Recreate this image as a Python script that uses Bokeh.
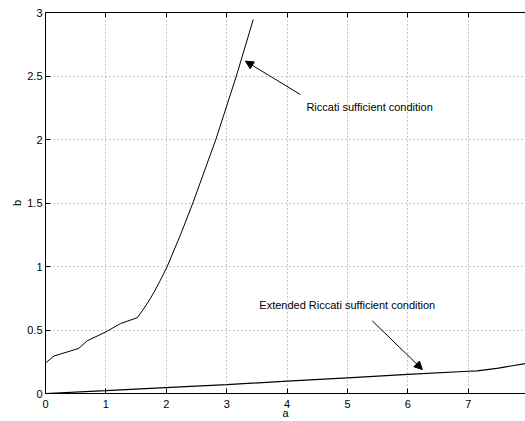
from bokeh.plotting import figure
from bokeh.models import Range1d, LinearAxis, Label, Arrow, NormalHead, FixedTicker
from bokeh.embed import file_html
from bokeh.resources import INLINE

# Riccati sufficient condition
ric_a = [0.0, 0.14, 0.55, 0.69, 1.0, 1.24, 1.52, 1.6, 1.7, 1.8, 1.9, 2.015, 2.235, 2.44, 2.63, 2.82, 3.16, 3.44]
ric_b = [0.24, 0.295, 0.355, 0.415, 0.485, 0.55, 0.597, 0.65, 0.72, 0.8, 0.89, 1.0, 1.25, 1.5, 1.75, 2.0, 2.5, 2.945]

# Extended Riccati sufficient condition
ext_a = [0.0, 1.0, 1.9, 3.0, 4.0, 5.0, 6.0, 7.0, 7.15, 7.5, 7.95]
ext_b = [0.0, 0.022, 0.044, 0.07, 0.097, 0.123, 0.15, 0.175, 0.178, 0.2, 0.236]

x_ticks = [0, 1, 2, 3, 4, 5, 6, 7]
y_ticks = [0, 0.5, 1, 1.5, 2, 2.5, 3]

labels = [("Riccati sufficient condition", 4.32, 2.205),
          ("Extended Riccati sufficient condition", 3.54, 0.65)]
arrows = [(4.22, 2.354, 3.31, 2.617), (5.41, 0.572, 6.24, 0.189)]

FONT = "Liberation Sans"

p = figure(width=525, height=421, output_backend="svg", toolbar_location=None,
           x_range=Range1d(0, 7.947), y_range=Range1d(0, 3),
           min_border_left=45, min_border_right=0, min_border_top=12,
           min_border_bottom=28, x_axis_label="a", y_axis_label="b")
p.outline_line_color = None
p.background_fill_color = "white"
p.border_fill_color = "white"

for ax in (p.xaxis[0], p.yaxis[0]):
    ax.major_tick_in = 5
    ax.major_tick_out = 0
    ax.minor_tick_in = 0
    ax.minor_tick_out = 0
    ax.axis_line_color = "black"
    ax.major_tick_line_color = "black"
    ax.major_label_text_font = FONT
    ax.major_label_text_font_size = "11px"
    ax.major_label_text_color = "black"
    ax.axis_label_text_font = FONT
    ax.axis_label_text_font_size = "11px"
    ax.axis_label_text_font_style = "normal"
    ax.axis_label_text_color = "black"

p.xaxis[0].ticker = FixedTicker(ticks=x_ticks)
p.yaxis[0].ticker = FixedTicker(ticks=y_ticks)
p.xaxis[0].major_label_standoff = 6
p.xaxis[0].axis_label_standoff = -4
p.yaxis[0].major_label_standoff = 3
p.yaxis[0].axis_label_standoff = 1

top = LinearAxis(ticker=FixedTicker(ticks=x_ticks), major_label_text_font_size="0px",
                 major_tick_in=5, major_tick_out=0, minor_tick_in=0, minor_tick_out=0,
                 major_label_standoff=0,
                 axis_line_color="black", major_tick_line_color="black")
p.add_layout(top, "above")

p.xgrid.ticker = FixedTicker(ticks=x_ticks)
p.ygrid.ticker = FixedTicker(ticks=y_ticks)
for g in (p.xgrid[0], p.ygrid[0]):
    g.grid_line_color = "#909090"
    g.grid_line_dash = "1 3"
    g.grid_line_width = 1

p.line(ric_a, ric_b, line_color="black", line_width=1)
p.line(ext_a, ext_b, line_color="black", line_width=1.2)

for txt, x, y in labels:
    p.add_layout(Label(x=x, y=y, text=txt, text_font=FONT, text_font_size="11px",
                       text_color="black"))

for x0, y0, x1, y1 in arrows:
    p.add_layout(Arrow(x_start=x0, y_start=y0, x_end=x1, y_end=y1, line_color="black",
                       line_width=1,
                       end=NormalHead(size=8, fill_color="black", line_color="black")))

open("out.html", "w").write(file_html(p, INLINE))
